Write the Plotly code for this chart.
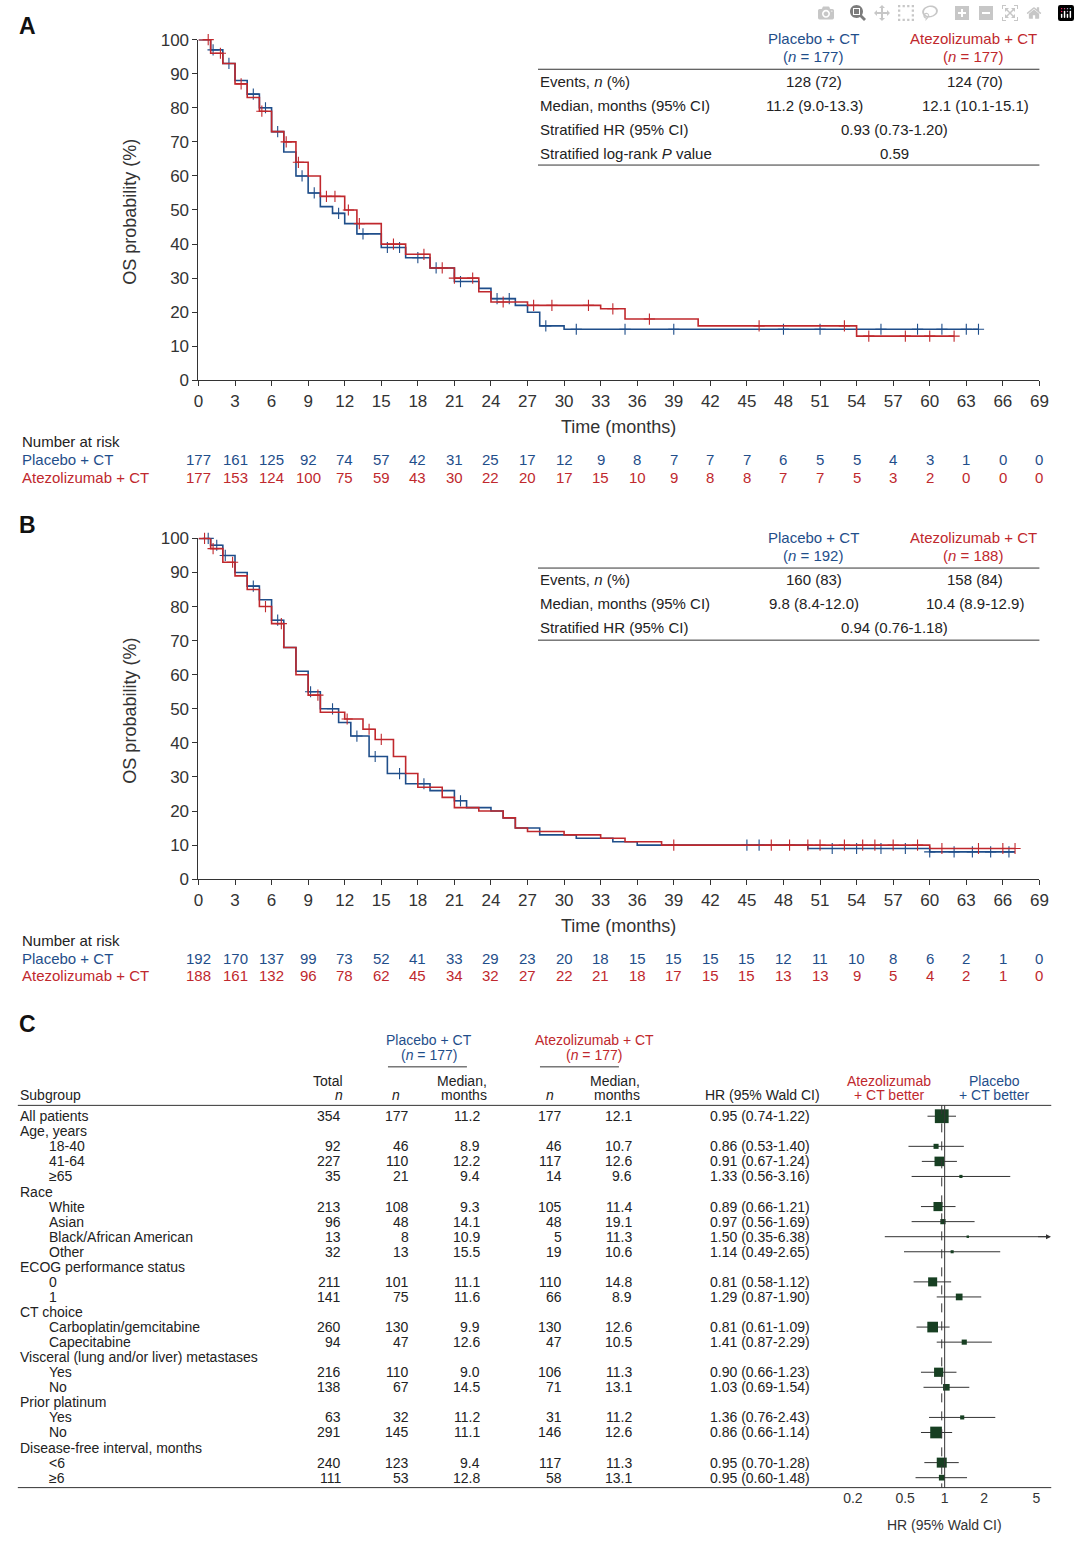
import plotly.graph_objects as go

W, H = 1080, 1547
BLUE = "#1f4e8a"
RED = "#c0282d"
GREEN = "#173f22"
FONT = "Liberation Sans, Arial, sans-serif"

def px(x): return x / W
def py(y): return 1 - y / H

# ---------------- DATA ----------------
time_ticks = list(range(0, 70, 3))

A_pl_t = [0, 1, 2, 3, 4, 5, 6, 7, 8, 9, 10, 11, 12, 13, 15, 17, 19, 21, 23, 24, 26, 27, 28, 30, 64]
A_pl_s = [100, 97, 93, 88, 84, 80, 73, 67, 60, 55, 51, 49, 46, 43, 39, 36, 33, 29, 27, 24, 22, 20, 16, 15, 15]
A_at_t = [0, 1, 2, 3, 4, 5, 6, 7, 8, 9, 10, 12, 13, 15, 17, 19, 21, 23, 24, 27, 33, 35, 41, 54, 62]
A_at_s = [100, 96, 93, 87, 83, 79, 73, 70, 64, 60, 54, 50, 46, 40, 37, 33, 30, 26, 23, 22, 21, 18, 16, 13, 13]
A_pl_cens = [1.2, 2.5, 4.5, 5.5, 6.5, 8.5, 9.5, 11.5, 13.5, 15.5, 16.5, 18, 19.5, 21.5, 24.5, 25.5, 28.5, 31, 35, 39, 48, 51, 56, 59, 61, 63, 64]
A_at_cens = [0.8, 1.8, 3.5, 5.2, 7.2, 8.2, 10.5, 11.2, 12.3, 13.2, 16, 18.5, 20, 21, 22.5, 25, 27.5, 29, 32, 34, 37, 46, 53, 55, 58, 60, 62]
A_risk_pl = [177, 161, 125, 92, 74, 57, 42, 31, 25, 17, 12, 9, 8, 7, 7, 7, 6, 5, 5, 4, 3, 1, 0, 0]
A_risk_at = [177, 153, 124, 100, 75, 59, 43, 30, 22, 20, 17, 15, 10, 9, 8, 8, 7, 7, 5, 3, 2, 0, 0, 0]

B_pl_t = [0, 1, 2, 3, 4, 5, 6, 7, 8, 9, 10, 11.5, 12.5, 14, 15.5, 17, 19, 21, 22, 24, 25, 26, 28, 31, 34, 36, 45, 50, 60, 67]
B_pl_s = [100, 98, 95, 90, 86, 82, 76, 68, 61, 55, 50, 46, 42, 36, 31, 28, 26, 23, 21, 20, 18, 15, 13, 12, 11, 10, 10, 9, 8, 8]
B_at_t = [0, 1, 2, 3, 4, 5, 6, 7, 8, 9, 10, 12, 13.5, 14.5, 16, 17, 18, 20, 21, 23, 25, 26, 27, 30, 33, 35, 38, 50, 60, 67]
B_at_s = [100, 97, 93, 89, 85, 80, 75, 68, 60, 54, 49, 47, 44, 41, 36, 31, 27, 24, 21, 20, 18, 15, 14, 13, 12, 11, 10, 10, 9, 9]
B_pl_cens = [0.8, 1.5, 2.2, 4.5, 6.5, 9.2, 11, 13, 14.5, 16.5, 18.5, 21.5, 45, 46, 52, 54, 56, 58, 60, 62, 63.5, 65, 66.5]
B_at_cens = [0.5, 1.2, 2.8, 5.5, 6.8, 9.8, 12.2, 14, 15, 39, 47, 48.5, 50, 51, 53, 54.5, 55.5, 57, 59, 61, 64, 66, 67]
B_risk_pl = [192, 170, 137, 99, 73, 52, 41, 33, 29, 23, 20, 18, 15, 15, 15, 15, 12, 11, 10, 8, 6, 2, 1, 0]
B_risk_at = [188, 161, 132, 96, 78, 62, 45, 34, 32, 27, 22, 21, 18, 17, 15, 15, 13, 13, 9, 5, 4, 2, 1, 0]

subgroups = ["All patients", "Age, years", "18-40", "41-64", "≥65", "Race", "White", "Asian",
             "Black/African American", "Other", "ECOG performance status", "0", "1", "CT choice",
             "Carboplatin/gemcitabine", "Capecitabine", "Visceral (lung and/or liver) metastases",
             "Yes", "No", "Prior platinum", "Yes", "No", "Disease-free interval, months", "<6", "≥6"]
indent = [0, 0, 1, 1, 1, 0, 1, 1, 1, 1, 0, 2, 2, 0, 1, 1, 0, 1, 1, 0, 1, 1, 0, 1, 1]
total = [354, None, 92, 227, 35, None, 213, 96, 13, 32, None, 211, 141, None, 260, 94, None, 216, 138, None, 63, 291, None, 240, 111]
pl_n = [177, None, 46, 110, 21, None, 108, 48, 8, 13, None, 101, 75, None, 130, 47, None, 110, 67, None, 32, 145, None, 123, 53]
pl_med = [11.2, None, 8.9, 12.2, 9.4, None, 9.3, 14.1, 10.9, 15.5, None, 11.1, 11.6, None, 9.9, 12.6, None, 9.0, 14.5, None, 11.2, 11.1, None, 9.4, 12.8]
at_n = [177, None, 46, 117, 14, None, 105, 48, 5, 19, None, 110, 66, None, 130, 47, None, 106, 71, None, 31, 146, None, 117, 58]
at_med = [12.1, None, 10.7, 12.6, 9.6, None, 11.4, 19.1, 11.3, 10.6, None, 14.8, 8.9, None, 12.6, 10.5, None, 11.3, 13.1, None, 11.2, 12.6, None, 11.3, 13.1]
hr = [0.95, None, 0.86, 0.91, 1.33, None, 0.89, 0.97, 1.50, 1.14, None, 0.81, 1.29, None, 0.81, 1.41, None, 0.90, 1.03, None, 1.36, 0.86, None, 0.95, 0.95]
hr_lo = [0.74, None, 0.53, 0.67, 0.56, None, 0.66, 0.56, 0.35, 0.49, None, 0.58, 0.87, None, 0.61, 0.87, None, 0.66, 0.69, None, 0.76, 0.66, None, 0.70, 0.60]
hr_hi = [1.22, None, 1.40, 1.24, 3.16, None, 1.21, 1.69, 6.38, 2.65, None, 1.12, 1.90, None, 1.09, 2.29, None, 1.23, 1.54, None, 2.43, 1.14, None, 1.28, 1.48]
forest_ticks = [0.2, 0.5, 1, 2, 5]

# ---------------- FIGURE ----------------
fig = go.Figure()
ann = []
shapes = []

def step_at(ts, ss, t):
    v = ss[0]
    for a, b in zip(ts, ss):
        if a <= t: v = b
    return v

def km_panel(k, top, bot, pl_t, pl_s, at_t, at_s, pl_c, at_c):
    xa, ya = ("x", "y") if k == 1 else ("x%d" % k, "y%d" % k)
    for t, s, c, col in [(pl_t, pl_s, pl_c, BLUE), (at_t, at_s, at_c, RED)]:
        fig.add_trace(go.Scatter(x=t, y=s, mode="lines", line=dict(color=col, width=1.6, shape="hv"),
                                 xaxis=xa, yaxis=ya, showlegend=False, cliponaxis=False))
        fig.add_trace(go.Scatter(x=c, y=[step_at(t, s, v) for v in c], mode="markers",
                                 marker=dict(symbol="cross-thin", size=8, line=dict(color=col, width=1.1)),
                                 xaxis=xa, yaxis=ya, showlegend=False, cliponaxis=False))
    axk = "" if k == 1 else str(k)
    common = dict(showline=True, linecolor="#333", linewidth=1, ticks="outside", ticklen=5,
                  tickcolor="#333", tickfont=dict(size=17, color="#333"), showgrid=False, zeroline=False)
    fig.layout["xaxis" + axk] = dict(domain=[px(196), px(1048)], range=[0, 69], tickvals=time_ticks,
                                     anchor="y" + axk, **common)
    fig.layout["yaxis" + axk] = dict(domain=[py(bot), py(top)], range=[0, 100], tickvals=list(range(0, 101, 10)),
                                     anchor="x" + axk, **common)

km_panel(1, 31, 376, A_pl_t, A_pl_s, A_at_t, A_at_s, A_pl_cens, A_at_cens)
km_panel(2, 536, 881, B_pl_t, B_pl_s, B_at_t, B_at_s, B_pl_cens, B_at_cens)

def text(x, y, s, size=15, color="#222", xanchor="left", xref="paper", yref="paper", **kw):
    ann.append(dict(x=x, y=y, text=s, xref=xref, yref=yref, xanchor=xanchor, yanchor="middle",
                    showarrow=False, font=dict(size=size, color=color, family=FONT), **kw))

def hline(x0, x1, y, w=1):
    shapes.append(dict(type="line", xref="paper", yref="paper", x0=px(x0), x1=px(x1), y0=py(y), y1=py(y),
                       line=dict(color="#333", width=w)))

for lab, y in [("A", 17), ("B", 522), ("C", 1028)]:
    text(px(12), py(y), "<b>%s</b>" % lab, size=23, color="#111")

def km_extras(off, xa, risk_pl, risk_at, rows, ncol):
    text(px(127), py(205 + off), "OS probability (%)", size=18, color="#333", xanchor="center", textangle=-90)
    text(px(622), py(423 + off), "Time (months)", size=18, color="#333", xanchor="center")
    text(px(15), py(438 + off), "Number at risk", size=15)
    text(px(15), py(456 + off), "Placebo + CT", size=15, color=BLUE)
    text(px(15), py(474 + off), "Atezolizumab + CT", size=15, color=RED)
    for t, a, b in zip(time_ticks, risk_pl, risk_at):
        text(t, py(456 + off), str(a), size=15, color=BLUE, xanchor="center", xref=xa)
        text(t, py(474 + off), str(b), size=15, color=RED, xanchor="center", xref=xa)
    text(px(819), py(30 + off), "Placebo + CT", size=15, color=BLUE, xanchor="center")
    text(px(819), py(48 + off), "(<i>n</i> = %d)" % ncol[0], size=15, color=BLUE, xanchor="center")
    text(px(981), py(30 + off), "Atezolizumab + CT", size=15, color=RED, xanchor="center")
    text(px(981), py(48 + off), "(<i>n</i> = %d)" % ncol[1], size=15, color=RED, xanchor="center")
    hline(540, 1048, 61 + off)
    for i, r in enumerate(rows):
        y = py(73 + off + 24.3 * i)
        text(px(540), y, r[0], size=15)
        if len(r) == 3:
            text(px(820), y, r[1], size=15, xanchor="center")
            text(px(983), y, r[2], size=15, xanchor="center")
        else:
            text(px(901), y, r[1], size=15, xanchor="center")
    hline(540, 1048, 158 + off + (0 if len(rows) == 4 else -24))

km_extras(0, "x", A_risk_pl, A_risk_at,
          [("Events, <i>n</i> (%)", "128 (72)", "124 (70)"),
           ("Median, months (95% CI)", "11.2 (9.0-13.3)", "12.1 (10.1-15.1)"),
           ("Stratified HR (95% CI)", "0.93 (0.73-1.20)"),
           ("Stratified log-rank <i>P</i> value", "0.59")], (177, 177))
km_extras(505, "x2", B_risk_pl, B_risk_at,
          [("Events, <i>n</i> (%)", "160 (83)", "158 (84)"),
           ("Median, months (95% CI)", "9.8 (8.4-12.0)", "10.4 (8.9-12.9)"),
           ("Stratified HR (95% CI)", "0.94 (0.76-1.18)")], (192, 188))

# ---------------- PANEL C ----------------
text(px(430), py(1044), "Placebo + CT", size=14, color=BLUE, xanchor="center")
text(px(430), py(1059), "(<i>n</i> = 177)", size=14, color=BLUE, xanchor="center")
text(px(597), py(1044), "Atezolizumab + CT", size=14, color=RED, xanchor="center")
text(px(597), py(1059), "(<i>n</i> = 177)", size=14, color=RED, xanchor="center")
hline(388, 468, 1071)
hline(542, 622, 1071)
text(px(13), py(1100), "Subgroup", size=14)
text(px(344), py(1085), "Total", size=14, xanchor="right")
text(px(344), py(1100), "<i>n</i>", size=14, xanchor="right")
text(px(402), py(1100), "<i>n</i>", size=14, xanchor="right")
text(px(490), py(1085), "Median,", size=14, xanchor="right")
text(px(490), py(1100), "months", size=14, xanchor="right")
text(px(558), py(1100), "<i>n</i>", size=14, xanchor="right")
text(px(645), py(1085), "Median,", size=14, xanchor="right")
text(px(645), py(1100), "months", size=14, xanchor="right")
text(px(828), py(1100), "HR (95% Wald CI)", size=14, xanchor="right")
text(px(896), py(1085), "Atezolizumab", size=14, color=RED, xanchor="center")
text(px(896), py(1100), "+ CT better", size=14, color=RED, xanchor="center")
text(px(1002), py(1085), "Placebo", size=14, color=BLUE, xanchor="center")
text(px(1002), py(1100), "+ CT better", size=14, color=BLUE, xanchor="center")
hline(13, 1060, 1110)
hline(13, 1060, 1497)
text(px(952), py(1535), "HR (95% Wald CI)", size=14, color="#333", xanchor="center")

for i, s in enumerate(subgroups):
    text(px(13 + 30 * min(indent[i], 1)), i, s, size=14, yref="y3")
    if total[i] is None:
        continue
    text(px(342), i, str(total[i]), size=14, xanchor="right", yref="y3")
    text(px(411), i, str(pl_n[i]), size=14, xanchor="right", yref="y3")
    text(px(483), i, "%.1f" % pl_med[i], size=14, xanchor="right", yref="y3")
    text(px(566), i, str(at_n[i]), size=14, xanchor="right", yref="y3")
    text(px(637), i, "%.1f" % at_med[i], size=14, xanchor="right", yref="y3")
    text(px(818), i, "%.2f (%.2f-%.2f)" % (hr[i], hr_lo[i], hr_hi[i]), size=14, xanchor="right", yref="y3")

cx, cy = [], []
for i in range(len(subgroups)):
    if hr[i] is None:
        continue
    hi = min(hr_hi[i], 6.0)
    cx += [hr_lo[i], hi, None]
    cy += [i, i, None]
fig.add_trace(go.Scatter(x=cx, y=cy, mode="lines", line=dict(color="#333", width=1),
                         xaxis="x3", yaxis="y3", showlegend=False, cliponaxis=False))
for i in range(len(subgroups)):
    if hr[i] is not None and hr_hi[i] > 6:
        ann.append(dict(x=0.81, y=i, ax=0.70, ay=i, xref="x3", yref="y3", axref="x3", ayref="y3",
                        showarrow=True, arrowhead=2, arrowsize=1, arrowwidth=1, arrowcolor="#333", text=""))
idx = [i for i in range(len(subgroups)) if hr[i] is not None]
fig.add_trace(go.Scatter(x=[hr[i] for i in idx], y=idx, mode="markers",
                         marker=dict(symbol="square", color=GREEN, opacity=1, line=dict(width=0),
                                     size=[2 + total[i] / 30 for i in idx]),
                         xaxis="x3", yaxis="y3", showlegend=False, cliponaxis=False))
shapes.append(dict(type="line", xref="x3", yref="paper", x0=1, x1=1, y0=py(1110), y1=py(1497),
                   line=dict(color="#333", width=1)))
shapes.append(dict(type="line", xref="x3", yref="paper", x0=hr[0], x1=hr[0], y0=py(1110), y1=py(1497),
                   line=dict(color="#333", width=1, dash="dash")))

fig.layout.xaxis3 = dict(type="log", domain=[px(850), px(1060)], range=[-0.767, 0.812], anchor="y3",
                         tickvals=forest_ticks, ticktext=[str(v) for v in forest_ticks], showline=False,
                         showgrid=False, zeroline=False, ticks="", tickfont=dict(size=14, color="#333"))
fig.layout.yaxis3 = dict(domain=[py(1497), py(1110)], range=[24.66, -0.72], visible=False, anchor="x3")

fig.update_layout(width=W, height=H, margin=dict(l=0, r=0, t=0, b=0), paper_bgcolor="white",
                  plot_bgcolor="white", font=dict(family=FONT), annotations=ann, shapes=shapes)
fig.write_html("out.html",
               post_script="document.body.style.margin='0';document.body.style.overflow='hidden';")
